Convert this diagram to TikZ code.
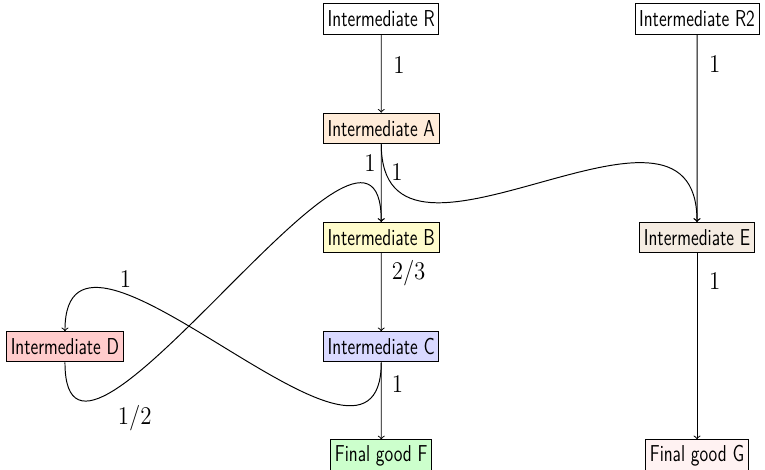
\documentclass[tikz,border=0pt]{standalone}
\usepackage{amsmath}
\usepackage{tikz}
\usetikzlibrary{shapes}

\begin{document}
\begin{tikzpicture}[scale=1,line width=0.55pt]
		\tikzstyle{stage}=[draw,rectangle,font=\sffamily\fontsize{13}{15}\selectfont,xscale=0.77,text centered,inner xsep=3pt,minimum height=0.6cm]
		\tikzstyle{qty}=[font=\fontsize{13.5}{15}\selectfont,xscale=0.9]
		
		\useasboundingbox (-1.29,0.377) rectangle (13.90,-8.94);
		
		\node[stage] (R) at (6.28,0) {Intermediate R};
		\node[stage] (R2) at (12.55,0) {Intermediate R2};
		\node[stage,fill=orange!15] (A) at (6.28,-2.17) {Intermediate A};
		\node[stage,fill=yellow!20] (B) at (6.28,-4.34) {Intermediate B};
		\node[stage,fill=brown!15] (E) at (12.55,-4.34) {Intermediate E};
		\node[stage,fill=red!20] (D) at (0,-6.51) {Intermediate D};
		\node[stage,fill=blue!15] (C) at (6.28,-6.51) {Intermediate C};
		\node[stage,fill=green!20] (F) at (6.28,-8.68) {Final good F};
		\node[stage,fill=red!5] (G) at (12.55,-8.68) {Final good G};
		
		\draw[->] (R) -- (A) node[qty,right=4pt,pos=0.39] {$1$};
		\draw[->] (R2) -- (E) node[qty,right=4pt,pos=0.16] {$1$};
		\draw[->] (A) -- (B) node[qty,left,pos=0.25] {$1$};
		\draw[->] (A.south) to[out=-90,in=90,looseness=1.3] node[qty,right,pos=0.07] {$1$} (E.north);
		\draw[->] (B) -- (C) node[qty,right=3pt,pos=0.26] {$2/3$};
		\draw[->] (C) -- (F) node[qty,right=3pt,pos=0.28] {$1$};
		\draw[->] (E) -- (G) node[qty,right=4pt,pos=0.15] {$1$};
		\draw[->] (D.south) to[out=-90,in=90,looseness=1.3] node[qty,below right=3pt,pos=0.23] {$1/2$} (B.north);
		\draw[->] (C.south) to[out=-90,in=90,looseness=1.3] node[qty,above,pos=0.72] {$1$} (D.north);
		
		\end{tikzpicture}
\end{document}
